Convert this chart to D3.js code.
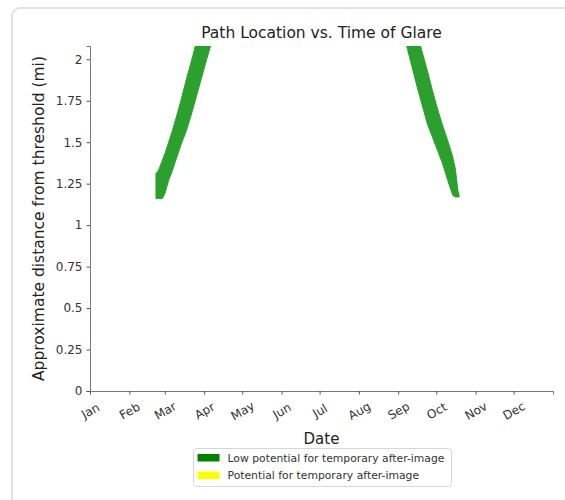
<!DOCTYPE html>
<html>
<head>
<meta charset="utf-8">
<script src="https://cdn.jsdelivr.net/npm/d3@7"></script>
<style>
  body { margin: 0; background: #fff; }
  svg { display: block; font-family: "DejaVu Sans", sans-serif; }
</style>
</head>
<body>
<div id="chart"></div>
<script>
// Month tick labels and y ticks
const months = ['Jan', 'Feb', 'Mar', 'Apr', 'May', 'Jun', 'Jul', 'Aug', 'Sep', 'Oct', 'Nov', 'Dec'];
const yTicks = [0, 0.25, 0.5, 0.75, 1, 1.25, 1.5, 1.75, 2];

// Glare band in spring (day of year, low / high distance in mi)
const springDays = [52, 54, 57, 59, 62, 65, 68, 72, 76, 80, 84, 88, 92, 95];
const springLow = [1.16, 1.16, 1.16, 1.19, 1.27, 1.33, 1.40, 1.49, 1.57, 1.67, 1.78, 1.89, 2.00, 2.08];
const springHigh = [1.31, 1.33, 1.39, 1.43, 1.50, 1.57, 1.65, 1.76, 1.88, 1.99, 2.11, 2.23, 2.35, 2.45];

// Glare band in autumn
const autumnDays = [246, 250, 254, 258, 262, 266, 270, 274, 278, 282, 286, 288, 290, 291];
const autumnLow = [2.18, 2.07, 1.95, 1.83, 1.72, 1.61, 1.53, 1.45, 1.37, 1.27, 1.18, 1.17, 1.17, 1.17];
const autumnHigh = [2.49, 2.37, 2.26, 2.15, 2.04, 1.93, 1.81, 1.70, 1.60, 1.51, 1.41, 1.34, 1.21, 1.18];

const legendLabels = ['Low potential for temporary after-image', 'Potential for temporary after-image'];
const legendColors = ['#008000', '#ffff00'];

const width = 565, height = 500;
const margin = { top: 46, right: 12, bottom: 109, left: 90 };
const year0 = new Date(2023, 0, 1);
const dayToDate = d => d3.timeDay.offset(year0, d);

const svg = d3.select('#chart')
    .append('svg')
    .attr('width', width)
    .attr('height', height);

// card outline
svg.append('rect')
    .attr('x', 12)
    .attr('y', 8)
    .attr('width', 620)
    .attr('height', 540)
    .attr('rx', 8)
    .attr('fill', '#fff')
    .attr('stroke', '#e2e2e2')
    .attr('stroke-width', 2);

const x = d3.scaleTime()
    .domain([year0, new Date(2024, 0, 1)])
    .range([margin.left, width - margin.right]);

const y = d3.scaleLinear()
    .domain([0, 2.08])
    .range([height - margin.bottom, margin.top]);

svg.append('clipPath')
    .attr('id', 'plot-clip')
    .append('rect')
    .attr('x', margin.left)
    .attr('y', margin.top)
    .attr('width', width - margin.right - margin.left)
    .attr('height', height - margin.bottom - margin.top);

const area = d3.area()
    .x(d => x(dayToDate(d.day)))
    .y0(d => y(d.low))
    .y1(d => y(d.high));

const bands = [
    springDays.map((d, i) => ({ day: d, low: springLow[i], high: springHigh[i] })),
    autumnDays.map((d, i) => ({ day: d, low: autumnLow[i], high: autumnHigh[i] }))
];

svg.append('g')
    .attr('clip-path', 'url(#plot-clip)')
    .selectAll('path')
    .data(bands)
    .enter()
    .append('path')
    .attr('d', area)
    .attr('fill', '#2ca02c')
    .attr('stroke', '#2ca02c')
    .attr('stroke-width', 1);

// x axis
const xAxis = svg.append('g')
    .attr('transform', `translate(0,${height - margin.bottom})`)
    .call(d3.axisBottom(x)
        .tickValues(months.map((m, i) => new Date(2023, i, 1)))
        .tickFormat((d, i) => months[i])
        .tickSizeOuter(0)
        .tickSize(3.5)
        .tickPadding(0));

// y axis
const yAxis = svg.append('g')
    .attr('transform', `translate(${margin.left},0)`)
    .call(d3.axisLeft(y)
        .tickValues(yTicks)
        .tickFormat(d => String(d))
        .tickSizeOuter(0)
        .tickSize(3.5)
        .tickPadding(4));

[xAxis, yAxis].forEach(g => {
    g.select('.domain').attr('stroke', '#777').attr('stroke-width', 1);
    g.selectAll('.tick line').attr('stroke', '#555');
    g.selectAll('text').attr('font-size', '12px').attr('fill', '#333')
        .attr('font-family', '"DejaVu Sans", sans-serif');
});

xAxis.selectAll('text')
    .attr('y', 0)
    .attr('dy', 0)
    .attr('text-anchor', 'middle')
    .attr('dominant-baseline', 'central')
    .attr('transform', 'translate(0,20) rotate(-30)');

// title and labels
svg.append('text')
    .attr('x', (margin.left + width - margin.right) / 2)
    .attr('y', 38)
    .attr('text-anchor', 'middle')
    .attr('font-size', '15.5px')
    .attr('fill', '#222')
    .text('Path Location vs. Time of Glare');

svg.append('text')
    .attr('x', (margin.left + width - margin.right) / 2)
    .attr('y', 444)
    .attr('text-anchor', 'middle')
    .attr('font-size', '15px')
    .attr('fill', '#222')
    .text('Date');

svg.append('text')
    .attr('transform', `translate(44,${(margin.top + height - margin.bottom) / 2}) rotate(-90)`)
    .attr('text-anchor', 'middle')
    .attr('font-size', '15.5px')
    .attr('fill', '#222')
    .text('Approximate distance from threshold (mi)');

// legend
const legend = svg.append('g').attr('transform', 'translate(193.5,448.5)');
legend.append('rect')
    .attr('width', 258)
    .attr('height', 38)
    .attr('rx', 3)
    .attr('fill', '#fff')
    .attr('stroke', '#d6d6d6');

const items = legend.selectAll('.legend-item')
    .data(legendLabels)
    .enter()
    .append('g')
    .attr('class', 'legend-item')
    .attr('transform', (d, i) => `translate(4,${5.5 + i * 17.5})`);

items.append('rect')
    .attr('width', 22)
    .attr('height', 7.5)
    .attr('fill', (d, i) => legendColors[i]);

items.append('text')
    .attr('x', 30)
    .attr('y', 4)
    .attr('dominant-baseline', 'central')
    .attr('font-size', '10.8px')
    .attr('fill', '#333')
    .text(d => d);
</script>
</body>
</html>
